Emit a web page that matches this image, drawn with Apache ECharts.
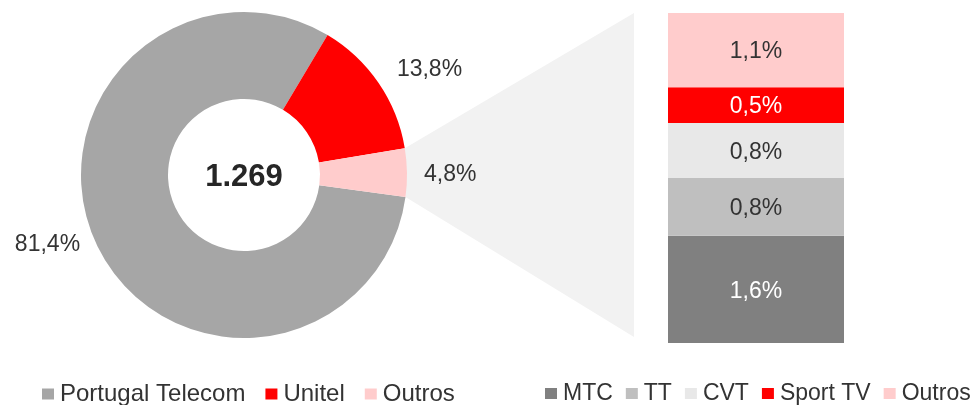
<!DOCTYPE html>
<html>
<head>
<meta charset="utf-8">
<script src="https://cdn.jsdelivr.net/npm/echarts@6/dist/echarts.min.js"></script>
<style>
  html, body { margin: 0; padding: 0; background: #fff; }
  #chart { width: 980px; height: 405px; }
</style>
</head>
<body>
<div id="chart"></div>
<script>
// donut: market share (%)
const pieNames = ['Portugal Telecom', 'Unitel', 'Outros']
const pieValues = [81.4, 13.8, 4.8]
const pieColors = ['#a6a6a6', '#ff0000', '#ffcccc']
const totalLabel = '1.269'

// breakdown of "Outros" (%), bottom to top
const barNames = ['MTC', 'TT', 'CVT', 'Sport TV', 'Outros']
const barValues = [1.56, 0.84, 0.80, 0.52, 1.08]
const barColors = ['#808080', '#bfbfbf', '#e8e8e8', '#ff0000', '#ffcccc']
const barLabelColors = ['#fff', '#333', '#333', '#fff', '#333']

const FONT = "'Liberation Sans', Arial, sans-serif"
const CX = 244
const CY = 175
const R_IN = 76
const R_OUT = 163
const START = -7.8

// small nudges so the pie labels sit where the original puts them
const pieLabelShift = [[2.5, -2.5], [-1.5, -4], [-3, 1]]

const fmt = (v) => v.toFixed(1).replace('.', ',') + '%'

const chart = echarts.init(document.getElementById('chart'))

const barSeries = barNames.map((name, i) => ({
  name,
  type: 'bar',
  stack: 'outros',
  barWidth: '100%',
  data: [barValues[i]],
  itemStyle: { color: barColors[i] },
  label: {
    show: true,
    position: 'inside',
    formatter: () => fmt(barValues[i]),
    color: barLabelColors[i],
    fontSize: 23,
    fontFamily: FONT,
    offset: [0, 2]
  },
  emphasis: { disabled: true }
}))

const legendBase = {
  top: 382,
  padding: 0,
  icon: 'rect',
  itemWidth: 12,
  itemHeight: 11,
  selectedMode: false
}

chart.setOption({
  animation: false,
  textStyle: { fontFamily: FONT },
  legend: [
    Object.assign({}, legendBase, {
      data: pieNames,
      left: 42,
      itemGap: 20,
      textStyle: { fontSize: 24, color: '#333', fontFamily: FONT, padding: [0, 0, 0, 1] }
    }),
    Object.assign({}, legendBase, {
      data: barNames,
      left: 545,
      width: 435,
      itemGap: 13,
      textStyle: { fontSize: 23, color: '#333', fontFamily: FONT, padding: [0, 0, 0, 1] }
    })
  ],
  grid: { left: 668, right: 136, top: 13, bottom: 62 },
  xAxis: {
    type: 'category',
    data: ['Outros'],
    show: false
  },
  yAxis: {
    type: 'value',
    min: 0,
    max: 4.8,
    show: false
  },
  series: [
    {
      name: 'share',
      type: 'pie',
      center: [CX, CY],
      radius: [R_IN, R_OUT],
      startAngle: START,
      clockwise: true,
      avoidLabelOverlap: false,
      label: {
        show: true,
        position: 'outside',
        formatter: (p) => fmt(p.value),
        fontSize: 23,
        color: '#333',
        fontFamily: FONT
      },
      labelLine: { show: false, length: 10, length2: 8 },
      labelLayout: (params) => ({
        dx: pieLabelShift[params.dataIndex][0],
        dy: pieLabelShift[params.dataIndex][1]
      }),
      emphasis: { disabled: true },
      data: pieNames.map((name, i) => ({
        name,
        value: pieValues[i],
        itemStyle: { color: pieColors[i] }
      }))
    },
    ...barSeries
  ]
})

// connector between the "Outros" slice and the stacked bar
const toRad = Math.PI / 180
const outrosStart = START - (pieValues[0] + pieValues[1]) / 100 * 360
const outrosEnd = START - 360
const pTop = [CX + R_OUT * Math.cos(outrosStart * toRad), CY - R_OUT * Math.sin(outrosStart * toRad)]
const pBot = [CX + R_OUT * Math.cos(outrosEnd * toRad), CY - R_OUT * Math.sin(outrosEnd * toRad)]
const total = barValues.reduce((a, b) => a + b, 0)
const yTop = chart.convertToPixel({ yAxisIndex: 0 }, total)
const yBot = chart.convertToPixel({ yAxisIndex: 0 }, 0) - 6
const xRight = 668 - 34

chart.setOption({
  graphic: [
    {
      type: 'polygon',
      z: -1,
      shape: { points: [pTop, [xRight, yTop], [xRight, yBot], pBot] },
      style: { fill: '#f2f2f2' }
    },
    {
      type: 'text',
      x: CX,
      y: CY + 2,
      style: {
        text: totalLabel,
        fill: '#262626',
        font: 'bold 31px ' + FONT,
        align: 'center',
        verticalAlign: 'middle'
      }
    }
  ]
})
</script>
</body>
</html>
